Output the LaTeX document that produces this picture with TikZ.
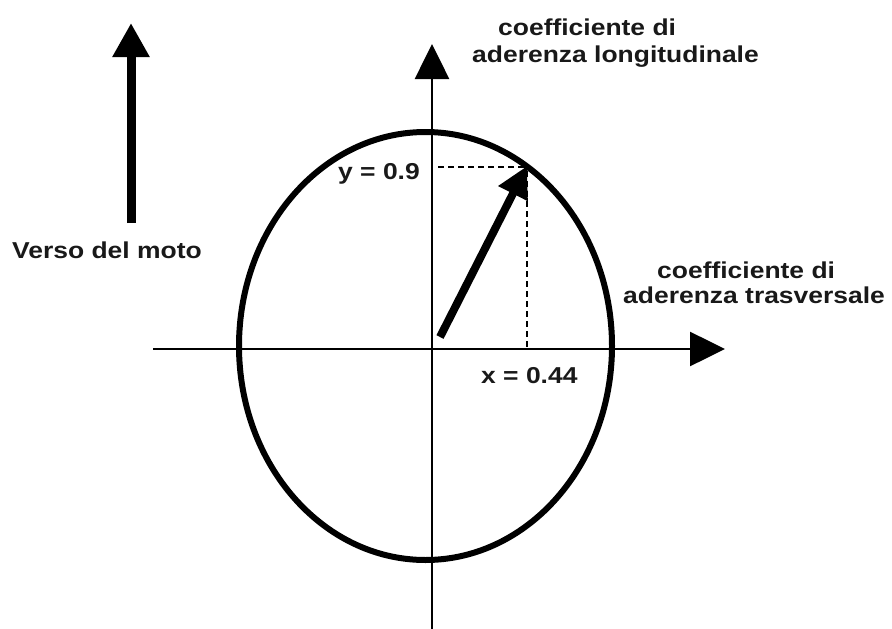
\documentclass[tikz,border=0pt]{standalone}
\usepackage{graphicx}
\usepackage{fontspec}
\setmainfont{Liberation Sans}
\usetikzlibrary{arrows.meta}
\newcommand\hstretch[1]{\scalebox{1.15}[1]{#1}}
\begin{document}
\begin{tikzpicture}[x=1pt,y=-1pt,
  lbl/.style={font=\bfseries\fontsize{23}{27}\selectfont, inner sep=0pt, text=black!90},
  axisline/.style={line width=2.6pt, -{Triangle[length=35pt,width=34pt]}},
  motoarrow/.style={line width=9pt, -{Triangle[length=34pt,width=35pt]}},
  vecarrow/.style={line width=8pt, -{Triangle[length=31pt,width=31pt]}},
  guide/.style={line width=2.4pt, dash pattern=on 6pt off 4pt},
  curve/.style={line width=6pt}]
\useasboundingbox (0,0) rectangle (892,629);
% axes
\coordinate (vb) at (432,629);
\coordinate (vt) at (432,44);
\coordinate (hl) at (153,349);
\coordinate (hr) at (725,349);
\draw[axisline] (vb) -- (vt);
\draw[axisline] (hl) -- (hr);
% ellipse
\coordinate (c) at (425.5,346);
\draw[curve] (c) ellipse [x radius=186.5, y radius=214];
% guides
\coordinate (o) at (440,337);
\coordinate (p) at (527,166);
\coordinate (py) at (438,167);
\coordinate (px) at (527,349);
\draw[guide] (py) -- (524,167);
\draw[guide] (527,171) -- (px);
% vector
\draw[vecarrow] (o) -- (p);
% direction of motion
\coordinate (mb) at (131,223);
\coordinate (mt) at (131,23);
\draw[motoarrow] (mb) -- (mt);
% labels
\node[lbl, anchor=base west] (l1) at (498,35) {\hstretch{coefficiente di}};
\node[lbl, anchor=base west] (l2) at (472,62) {\hstretch{aderenza longitudinale}};
\node[lbl, anchor=base west] (t1) at (657,278) {\hstretch{coefficiente di}};
\node[lbl, anchor=base west] (t2) at (623,303) {\hstretch{aderenza trasversale}};
\node[lbl, anchor=base east] (ly) at (420,179) {\hstretch{y = 0.9}};
\node[lbl, anchor=base west] (lx) at (481,383) {\hstretch{x = 0.44}};
\node[lbl, anchor=base west] (lm) at (12,258) {\hstretch{Verso del moto}};
\end{tikzpicture}
\end{document}
